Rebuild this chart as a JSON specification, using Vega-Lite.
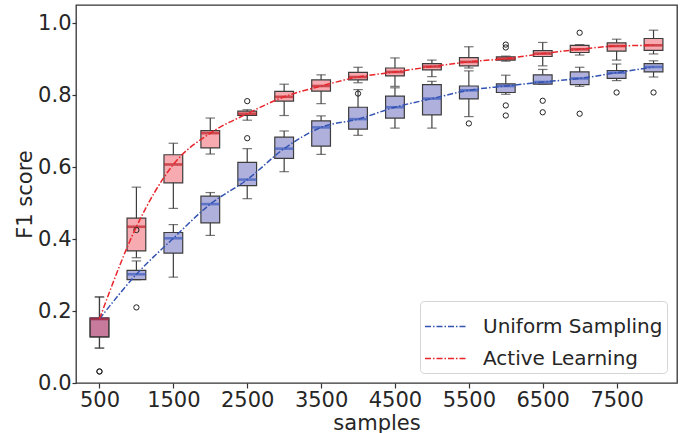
{
  "$schema": "https://vega.github.io/schema/vega-lite/v6.json",
  "width": 601,
  "height": 378,
  "autosize": {"type": "none"},
  "padding": {"left": 76, "top": 5, "right": 9, "bottom": 50},
  "background": "white",
  "config": {
    "font": "DejaVu Sans",
    "view": {"stroke": "#333333", "strokeWidth": 1.3},
    "axis": {
      "domain": false,
      "grid": false,
      "labelFontSize": 21,
      "titleFontSize": 21,
      "titleFontWeight": "normal",
      "labelColor": "#262626",
      "titleColor": "#262626",
      "tickColor": "#333333",
      "tickSize": 5,
      "tickWidth": 1.2,
      "labelPadding": 2
    },
    "legend": {
      "labelFontSize": 20,
      "labelColor": "#262626",
      "labelLimit": 400,
      "symbolType": "stroke",
      "symbolSize": 1681,
      "symbolStrokeWidth": 1.6,
      "symbolDash": [6, 2, 1.5, 2],
      "rowPadding": -11,
      "labelOffset": 16,
      "padding": 4,
      "fillColor": "rgba(255,255,255,0.85)",
      "strokeColor": "#d5d5d5",
      "cornerRadius": 4,
      "orient": "bottom-right",
      "offset": 10
    }
  },
  "datasets": {
    "boxes": [
      {"samples": 500, "method": "Uniform Sampling", "lo": 0.097, "q1": 0.128, "med": 0.178, "q3": 0.180, "hi": 0.239},
      {"samples": 1000, "method": "Uniform Sampling", "lo": 0.287, "q1": 0.287, "med": 0.302, "q3": 0.313, "hi": 0.339},
      {"samples": 1500, "method": "Uniform Sampling", "lo": 0.294, "q1": 0.361, "med": 0.402, "q3": 0.418, "hi": 0.440},
      {"samples": 2000, "method": "Uniform Sampling", "lo": 0.410, "q1": 0.445, "med": 0.497, "q3": 0.519, "hi": 0.529},
      {"samples": 2500, "method": "Uniform Sampling", "lo": 0.512, "q1": 0.548, "med": 0.565, "q3": 0.613, "hi": 0.651},
      {"samples": 3000, "method": "Uniform Sampling", "lo": 0.587, "q1": 0.624, "med": 0.651, "q3": 0.683, "hi": 0.700},
      {"samples": 3500, "method": "Uniform Sampling", "lo": 0.635, "q1": 0.658, "med": 0.710, "q3": 0.728, "hi": 0.742},
      {"samples": 4000, "method": "Uniform Sampling", "lo": 0.688, "q1": 0.705, "med": 0.733, "q3": 0.766, "hi": 0.815},
      {"samples": 4500, "method": "Uniform Sampling", "lo": 0.708, "q1": 0.736, "med": 0.766, "q3": 0.797, "hi": 0.820},
      {"samples": 5000, "method": "Uniform Sampling", "lo": 0.708, "q1": 0.745, "med": 0.790, "q3": 0.829, "hi": 0.838},
      {"samples": 5500, "method": "Uniform Sampling", "lo": 0.740, "q1": 0.789, "med": 0.813, "q3": 0.825, "hi": 0.867},
      {"samples": 6000, "method": "Uniform Sampling", "lo": 0.802, "q1": 0.807, "med": 0.825, "q3": 0.831, "hi": 0.855},
      {"samples": 6500, "method": "Uniform Sampling", "lo": 0.830, "q1": 0.830, "med": 0.836, "q3": 0.856, "hi": 0.871},
      {"samples": 7000, "method": "Uniform Sampling", "lo": 0.824, "q1": 0.829, "med": 0.846, "q3": 0.864, "hi": 0.877},
      {"samples": 7500, "method": "Uniform Sampling", "lo": 0.840, "q1": 0.846, "med": 0.862, "q3": 0.868, "hi": 0.886},
      {"samples": 8000, "method": "Uniform Sampling", "lo": 0.850, "q1": 0.864, "med": 0.878, "q3": 0.887, "hi": 0.895},
      {"samples": 500, "method": "Active Learning", "lo": 0.097, "q1": 0.128, "med": 0.178, "q3": 0.180, "hi": 0.239},
      {"samples": 1000, "method": "Active Learning", "lo": 0.348, "q1": 0.367, "med": 0.434, "q3": 0.458, "hi": 0.544},
      {"samples": 1500, "method": "Active Learning", "lo": 0.485, "q1": 0.556, "med": 0.607, "q3": 0.634, "hi": 0.666},
      {"samples": 2000, "method": "Active Learning", "lo": 0.636, "q1": 0.653, "med": 0.694, "q3": 0.701, "hi": 0.736},
      {"samples": 2500, "method": "Active Learning", "lo": 0.730, "q1": 0.743, "med": 0.748, "q3": 0.755, "hi": 0.759},
      {"samples": 3000, "method": "Active Learning", "lo": 0.743, "q1": 0.783, "med": 0.795, "q3": 0.810, "hi": 0.830},
      {"samples": 3500, "method": "Active Learning", "lo": 0.776, "q1": 0.811, "med": 0.825, "q3": 0.842, "hi": 0.856},
      {"samples": 4000, "method": "Active Learning", "lo": 0.834, "q1": 0.842, "med": 0.850, "q3": 0.863, "hi": 0.877},
      {"samples": 4500, "method": "Active Learning", "lo": 0.824, "q1": 0.853, "med": 0.864, "q3": 0.875, "hi": 0.903},
      {"samples": 5000, "method": "Active Learning", "lo": 0.851, "q1": 0.870, "med": 0.879, "q3": 0.887, "hi": 0.897},
      {"samples": 5500, "method": "Active Learning", "lo": 0.875, "q1": 0.881, "med": 0.892, "q3": 0.904, "hi": 0.934},
      {"samples": 6000, "method": "Active Learning", "lo": 0.894, "q1": 0.897, "med": 0.901, "q3": 0.906, "hi": 0.908},
      {"samples": 6500, "method": "Active Learning", "lo": 0.881, "q1": 0.907, "med": 0.915, "q3": 0.923, "hi": 0.946},
      {"samples": 7000, "method": "Active Learning", "lo": 0.911, "q1": 0.918, "med": 0.927, "q3": 0.938, "hi": 0.940},
      {"samples": 7500, "method": "Active Learning", "lo": 0.897, "q1": 0.922, "med": 0.936, "q3": 0.945, "hi": 0.955},
      {"samples": 8000, "method": "Active Learning", "lo": 0.914, "q1": 0.924, "med": 0.938, "q3": 0.957, "hi": 0.980}
    ],
    "outliers": [
      {"samples": 500, "method": "Uniform Sampling", "value": 0.032},
      {"samples": 1000, "method": "Uniform Sampling", "value": 0.425},
      {"samples": 1000, "method": "Uniform Sampling", "value": 0.210},
      {"samples": 2500, "method": "Uniform Sampling", "value": 0.680},
      {"samples": 5500, "method": "Uniform Sampling", "value": 0.721},
      {"samples": 6000, "method": "Uniform Sampling", "value": 0.771},
      {"samples": 6000, "method": "Uniform Sampling", "value": 0.743},
      {"samples": 6500, "method": "Uniform Sampling", "value": 0.784},
      {"samples": 6500, "method": "Uniform Sampling", "value": 0.752},
      {"samples": 7000, "method": "Uniform Sampling", "value": 0.748},
      {"samples": 7500, "method": "Uniform Sampling", "value": 0.807},
      {"samples": 8000, "method": "Uniform Sampling", "value": 0.807},
      {"samples": 500, "method": "Active Learning", "value": 0.032},
      {"samples": 2500, "method": "Active Learning", "value": 0.783},
      {"samples": 4000, "method": "Active Learning", "value": 0.804},
      {"samples": 6000, "method": "Active Learning", "value": 0.940},
      {"samples": 6000, "method": "Active Learning", "value": 0.932},
      {"samples": 7000, "method": "Active Learning", "value": 0.973}
    ]
  },
  "encoding": {
    "x": {
      "field": "samples",
      "type": "quantitative",
      "scale": {"domain": [250, 8250], "nice": false, "zero": false},
      "axis": {"values": [500, 1500, 2500, 3500, 4500, 5500, 6500, 7500], "title": "samples", "titlePadding": 2, "labelPadding": 1, "format": "d"}
    }
  },
  "layer": [
    {
      "data": {"name": "boxes"},
      "mark": {"type": "rule", "color": "#3d3d3d", "strokeWidth": 1.2},
      "encoding": {
        "y": {"field": "lo", "type": "quantitative", "scale": {"domain": [0, 1.05], "nice": false}, "axis": {"values": [0, 0.2, 0.4, 0.6, 0.8, 1.0], "format": ".1f", "title": "F1 score", "titlePadding": 2, "labelPadding": 1, "tickSize": 4}},
        "y2": {"field": "q1"}
      }
    },
    {
      "data": {"name": "boxes"},
      "mark": {"type": "rule", "color": "#3d3d3d", "strokeWidth": 1.2},
      "encoding": {
        "y": {"field": "q3", "type": "quantitative"},
        "y2": {"field": "hi"}
      }
    },
    {
      "data": {"name": "boxes"},
      "mark": {"type": "tick", "orient": "horizontal", "color": "#3d3d3d", "size": 9.5, "thickness": 1.2},
      "encoding": {"y": {"field": "lo", "type": "quantitative"}}
    },
    {
      "data": {"name": "boxes"},
      "mark": {"type": "tick", "orient": "horizontal", "color": "#3d3d3d", "size": 9.5, "thickness": 1.2},
      "encoding": {"y": {"field": "hi", "type": "quantitative"}}
    },
    {
      "data": {"name": "boxes"},
      "mark": {"type": "bar", "size": 18.75, "stroke": "#3d3d3d", "strokeWidth": 1.2},
      "encoding": {
        "y": {"field": "q1", "type": "quantitative"},
        "y2": {"field": "q3"},
        "fill": {"condition": {"test": "datum.method === 'Active Learning'", "value": "#ea2a3a"}, "value": "#b0b0dc"},
        "fillOpacity": {"condition": {"test": "datum.method === 'Active Learning'", "value": 0.4}, "value": 1}
      }
    },
    {
      "data": {"name": "boxes"},
      "mark": {"type": "tick", "orient": "horizontal", "size": 18.75, "thickness": 2.6},
      "encoding": {
        "y": {"field": "med", "type": "quantitative"},
        "color": {"condition": {"test": "datum.method === 'Active Learning'", "value": "#bb2026"}, "value": "#3a5bbd"}
      }
    },
    {
      "data": {"name": "outliers"},
      "mark": {"type": "point", "shape": "circle", "filled": false, "size": 28, "stroke": "#222222", "strokeWidth": 1, "opacity": 1},
      "encoding": {"y": {"field": "value", "type": "quantitative"}}
    },
    {
      "data": {"name": "boxes"},
      "mark": {"type": "line", "strokeWidth": 1.5, "strokeDash": [6, 2, 1.5, 2], "interpolate": "monotone"},
      "encoding": {
        "y": {"field": "med", "type": "quantitative"},
        "color": {
          "field": "method",
          "type": "nominal",
          "scale": {"domain": ["Uniform Sampling", "Active Learning"], "range": ["#3353b3", "#e8262c"]},
          "legend": {"title": null}
        }
      }
    }
  ]
}
